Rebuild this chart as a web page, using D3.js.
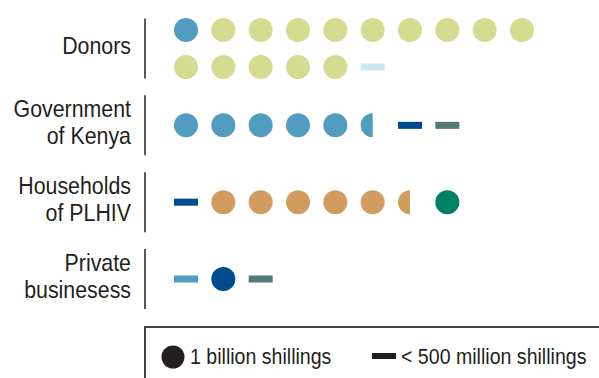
<!DOCTYPE html>
<html>
<head>
<meta charset="utf-8">
<script src="https://cdn.jsdelivr.net/npm/d3@7"></script>
<style>
  body { margin: 0; background: #fff; }
  svg text { font-family: "Liberation Sans", Arial, sans-serif; fill: #231f20; }
</style>
</head>
<body>
<svg width="599" height="378"></svg>
<script>
// funding sources
var categories = ["Donors", "Government of Kenya", "Households of PLHIV", "Private businesess"];
var labelLines = [["Donors"], ["Government", "of Kenya"], ["Households", "of PLHIV"], ["Private", "businesess"]];

// each mark: kind (full = 1 billion, half = 0.5 billion, small = < 500 million) + colour key
var donorsRow1 = [["full", "blue"], ["full", "lime"], ["full", "lime"], ["full", "lime"], ["full", "lime"],
                  ["full", "lime"], ["full", "lime"], ["full", "lime"], ["full", "lime"], ["full", "lime"]];
var donorsRow2 = [["full", "lime"], ["full", "lime"], ["full", "lime"], ["full", "lime"], ["full", "lime"],
                  ["small", "pale"]];
var governmentRow = [["full", "blue"], ["full", "blue"], ["full", "blue"], ["full", "blue"], ["full", "blue"],
                     ["half", "blue"], ["small", "navy"], ["small", "slate"]];
var householdsRow = [["small", "navy"], ["full", "tan"], ["full", "tan"], ["full", "tan"], ["full", "tan"],
                     ["full", "tan"], ["half", "tan"], ["full", "green"]];
var privateRow = [["small", "blue"], ["full", "navy"], ["small", "slate"]];

var legendLabels = ["1 billion shillings", "< 500 million shillings"];

var rows = [
  {cat: "Donors", sub: 0, n: 2, marks: donorsRow1},
  {cat: "Donors", sub: 1, n: 2, marks: donorsRow2},
  {cat: "Government of Kenya", sub: 0, n: 1, marks: governmentRow},
  {cat: "Households of PLHIV", sub: 0, n: 1, marks: householdsRow},
  {cat: "Private businesess", sub: 0, n: 1, marks: privateRow}
];

var colors = {
  blue: "#519dbf", lime: "#d6db92", pale: "#c9e9ef", navy: "#004b8d",
  slate: "#527a78", tan: "#d39c5f", green: "#008066"
};

var svg = d3.select("svg");

var x = d3.scalePoint().domain(d3.range(10)).range([186, 522]);
var y = d3.scalePoint().domain(categories).range([48.5, 279]);
var subGap = 37, r = 12, dashW = 24, dashH = 7;
var narrow = 0.89; // condensed look of the original typeface

// labels
var labels = svg.append("g").selectAll("text")
  .data(categories)
  .enter().append("text")
    .attr("text-anchor", "end")
    .style("font-size", "24px")
    .attr("transform", function(d, i) {
      var n = labelLines[i].length;
      return "translate(131," + (y(d) - (n - 1) * 13.5 + 5) + ") scale(" + narrow + ",1)";
    });
labels.selectAll("tspan")
  .data(function(d, i) { return labelLines[i]; })
  .enter().append("tspan")
    .attr("x", 0)
    .attr("y", function(d, i) { return i * 27.5; })
    .text(function(d) { return d; });

// divider lines
svg.append("g").selectAll("line")
  .data(categories)
  .enter().append("line")
    .attr("x1", 145).attr("x2", 145)
    .attr("y1", function(d) { return y(d) - 30; })
    .attr("y2", function(d) { return y(d) + 30; })
    .attr("stroke", "#58595b")
    .attr("stroke-width", 2);

// marks
var rowG = svg.append("g").selectAll("g")
  .data(rows)
  .enter().append("g")
    .attr("transform", function(d) {
      return "translate(0," + (y(d.cat) + (d.sub - (d.n - 1) / 2) * subGap) + ")";
    });

var half = d3.arc().innerRadius(0).outerRadius(r).startAngle(Math.PI).endAngle(2 * Math.PI);

rowG.each(function(row) {
  var g = d3.select(this);
  row.marks.forEach(function(m, i) {
    var cx = x(i), fill = colors[m[1]];
    if (m[0] === "full") {
      g.append("circle").attr("cx", cx).attr("cy", 0).attr("r", r).attr("fill", fill);
    } else if (m[0] === "half") {
      g.append("path").attr("d", half()).attr("transform", "translate(" + cx + ",0)").attr("fill", fill);
    } else {
      g.append("rect").attr("x", cx - dashW / 2).attr("y", -dashH / 2)
        .attr("width", dashW).attr("height", dashH).attr("fill", fill);
    }
  });
});

// legend
var legend = svg.append("g");
legend.append("rect")
  .attr("x", 145).attr("y", 327).attr("width", 470).attr("height", 70)
  .attr("fill", "none").attr("stroke", "#414042").attr("stroke-width", 2);
legend.append("circle").attr("cx", 173).attr("cy", 357).attr("r", 11.5).attr("fill", "#231f20");
legend.append("text").attr("transform", "translate(190,364) scale(" + narrow + ",1)")
  .style("font-size", "22px").text(legendLabels[0]);
legend.append("rect").attr("x", 372).attr("y", 353).attr("width", dashW).attr("height", 6).attr("fill", "#231f20");
legend.append("text").attr("transform", "translate(401,364) scale(" + narrow + ",1)")
  .style("font-size", "22px").text(legendLabels[1]);
</script>
</body>
</html>
